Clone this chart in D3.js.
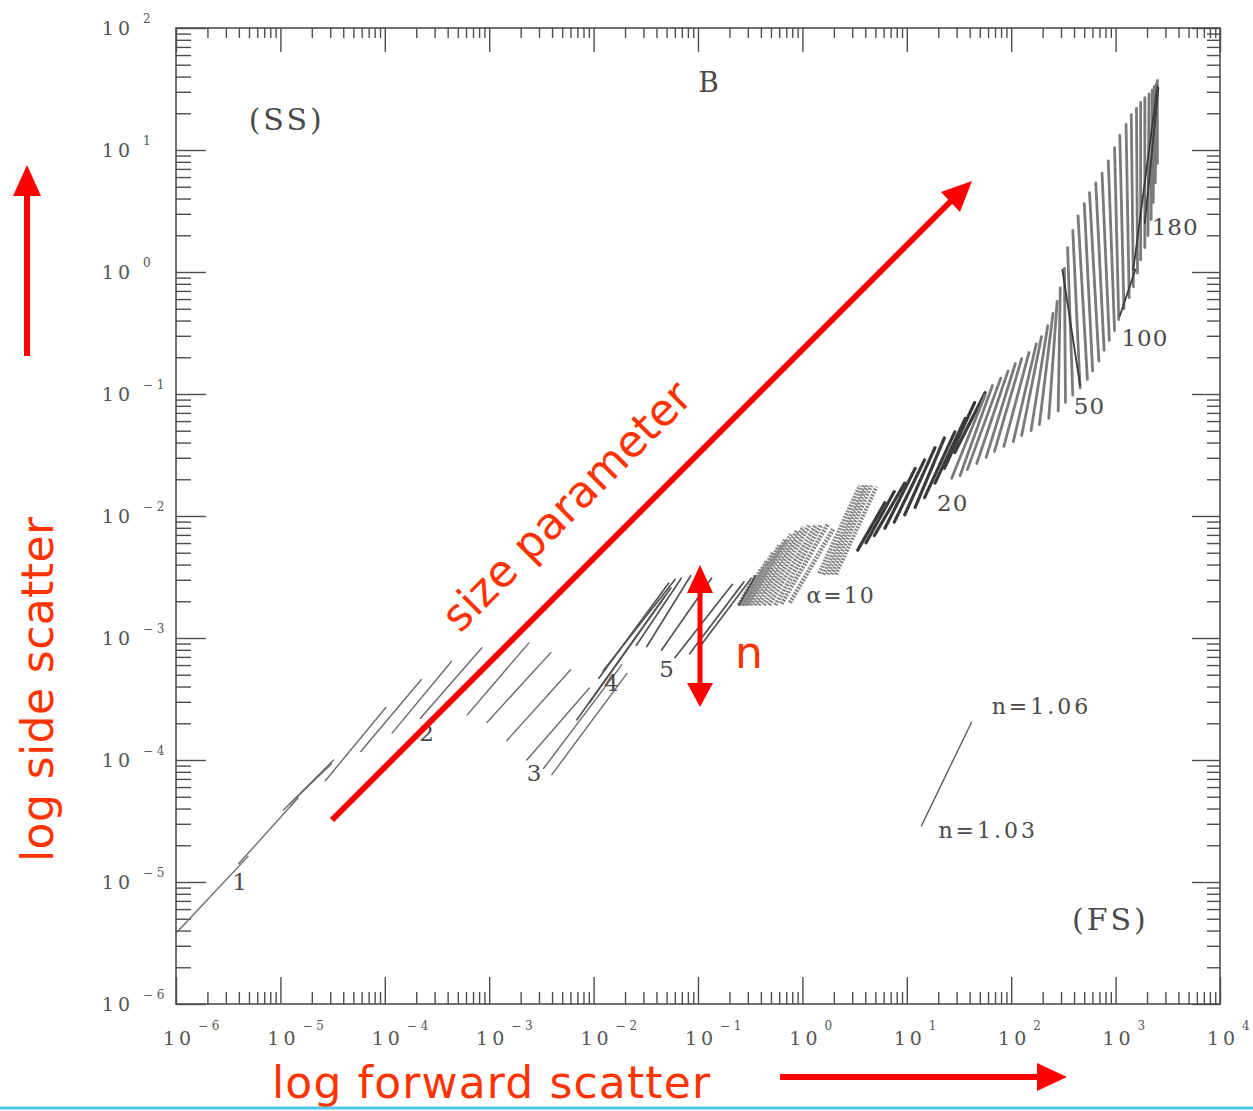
<!DOCTYPE html>
<html><head><meta charset="utf-8">
<script src="https://cdn.jsdelivr.net/npm/d3@7"></script>
<style>body{margin:0;background:#fff}svg{display:block}</style>
</head><body>
<svg id="c" width="1253" height="1111"></svg>
<script>
// ---- tick labels (exponents of 10) ----
const xTickExps = [-6,-5,-4,-3,-2,-1,0,1,2,3,4];
const yTickExps = [-6,-5,-4,-3,-2,-1,0,1,2];

// ---- data: each segment = [log10 FS (n=1.03), log10 SS (n=1.03), log10 FS (n=1.06), log10 SS (n=1.06)] ----
const segsSmall = [ // alpha ~ 1 - 3
  [-6.00,-5.42,-5.31,-4.79],[-5.40,-4.85,-4.83,-4.31],[-4.97,-4.41,-4.49,-4.00],
  [-4.91,-4.36,-4.51,-4.03],[-4.57,-4.17,-3.99,-3.57],[-4.23,-3.93,-3.65,-3.34],
  [-3.93,-3.78,-3.36,-3.19],[-3.66,-3.66,-3.07,-3.08],[-3.44,-3.59,-2.86,-3.07],
  [-3.21,-3.63,-2.62,-3.04],[-3.02,-3.69,-2.41,-3.12],[-2.83,-3.84,-2.22,-3.26],
  [-2.64,-4.00,-2.04,-3.41],[-2.48,-4.07,-1.73,-3.22],[-2.40,-4.12,-1.68,-3.29]
];
const segsMid = [ // alpha ~ 4 - 8
  [-2.16,-3.67,-1.32,-2.66],[-2.04,-3.53,-1.26,-2.59],[-1.95,-3.33,-1.28,-2.55],
  [-1.91,-3.27,-1.22,-2.52],[-1.59,-3.06,-1.16,-2.51],[-1.49,-3.07,-1.07,-2.49],
  [-1.35,-3.10,-0.87,-2.51],[-1.22,-3.16,-0.67,-2.56],[-1.08,-3.13,-0.56,-2.54],
  [-0.99,-3.08,-0.49,-2.51]
];
const segsAlpha10 = [ // alpha ~ 9 - 12 (dense)
  [-0.61,-2.73,-0.45,-2.49],[-0.59,-2.73,-0.39,-2.43],[-0.58,-2.73,-0.34,-2.37],
  [-0.56,-2.73,-0.28,-2.30],[-0.55,-2.73,-0.22,-2.24],[-0.53,-2.73,-0.16,-2.19],
  [-0.50,-2.73,-0.11,-2.15],[-0.46,-2.73,-0.05,-2.12],[-0.42,-2.73,0.01,-2.09],
  [-0.37,-2.73,0.07,-2.07],[-0.32,-2.73,0.13,-2.07],[-0.26,-2.73,0.18,-2.07],
  [-0.20,-2.72,0.24,-2.07],[-0.12,-2.71,0.30,-2.10]
];
const segsAlpha13 = [
  [0.16,-2.47,0.55,-1.75],[0.20,-2.48,0.59,-1.75],[0.24,-2.48,0.62,-1.75],
  [0.28,-2.48,0.66,-1.75],[0.32,-2.48,0.71,-1.76]
];
const segsAlpha20 = [ // alpha ~ 14 - 22 (dark)
  [0.53,-2.28,0.79,-1.89],[0.61,-2.22,0.88,-1.80],[0.69,-2.16,0.98,-1.73],
  [0.79,-2.10,1.08,-1.61],[0.88,-2.05,1.17,-1.54],[0.98,-1.99,1.27,-1.44],
  [1.08,-1.93,1.36,-1.36],[1.17,-1.85,1.46,-1.31],[1.27,-1.73,1.56,-1.20],
  [1.36,-1.61,1.65,-1.07],[1.46,-1.48,1.75,-0.99]
];
// alpha ~ 25 - 180 : n=1.03 ends and n=1.06 ends
const fanLowFS  = [1.43,1.51,1.58,1.67,1.76,1.84,1.93,2.02,2.10,2.19,2.27,2.36,2.45,2.52,2.59,2.66,2.73,2.78,2.84,2.89,2.94,2.99,3.03,3.08,3.13,3.17,3.21,3.24,3.28,3.31,3.34,3.36,3.38,3.40];
const fanLowSS  = [-1.69,-1.67,-1.62,-1.57,-1.52,-1.47,-1.43,-1.39,-1.34,-1.30,-1.25,-1.20,-1.14,-1.07,-1.01,-0.95,-0.88,-0.81,-0.73,-0.64,-0.56,-0.48,-0.39,-0.30,-0.21,-0.12,-0.01,0.10,0.20,0.30,0.43,0.57,0.73,0.89];
const fanHighFS = [1.75,1.82,1.90,1.97,2.04,2.10,2.17,2.24,2.29,2.35,2.40,2.44,2.47,2.51,2.54,2.59,2.64,2.70,2.75,2.81,2.87,2.93,2.99,3.04,3.10,3.15,3.20,3.24,3.28,3.32,3.35,3.37,3.39,3.40];
const fanHighSS = [-1.01,-0.93,-0.87,-0.81,-0.75,-0.71,-0.66,-0.59,-0.53,-0.44,-0.34,-0.24,-0.13,0.03,0.20,0.34,0.46,0.56,0.65,0.73,0.81,0.91,1.02,1.12,1.21,1.29,1.34,1.39,1.43,1.46,1.49,1.52,1.54,1.57];
const caustics = [[2.49,0.02,2.66,-0.93],[3.17,0.02,3.40,1.52],[3.04,-0.36,3.19,0.02],[3.28,0.40,3.41,1.51]];
const legendSeg = [1.14,-4.54,1.62,-3.69];

const curveLabels = [
  {t:"1", fs:-5.39, ss:-5.00, s:23, ls:0},
  {t:"2", fs:-3.60, ss:-3.78, s:23, ls:0},
  {t:"3", fs:-2.57, ss:-4.11, s:23, ls:0},
  {t:"4", fs:-1.83, ss:-3.37, s:23, ls:0},
  {t:"5", fs:-1.30, ss:-3.25, s:23, ls:0},
  {t:"α=10", fs:0.37, ss:-2.65, s:22, ls:2},
  {t:"20", fs:1.44, ss:-1.89, s:23, ls:1},
  {t:"50", fs:2.75, ss:-1.10, s:23, ls:1},
  {t:"100", fs:3.28, ss:-0.54, s:23, ls:1},
  {t:"180", fs:3.57, ss:0.37, s:23, ls:1},
  {t:"n=1.06", fs:2.29, ss:-3.56, s:22, ls:3},
  {t:"n=1.03", fs:1.78, ss:-4.58, s:22, ls:3},
  {t:"B", fs:-0.90, ss:1.55, s:28, ls:0},
  {t:"(SS)", fs:-4.94, ss:1.25, s:30, ls:3},
  {t:"(FS)", fs:2.95, ss:-5.31, s:30, ls:3}
];

const svg = d3.select("#c");
const L = 176, R = 1220, T = 28, B = 1004;
const x = d3.scaleLog().domain([1e-6, 1e4]).range([L, R]);
const y = d3.scaleLog().domain([1e-6, 1e2]).range([B, T]);
const ink = "#4d4d4d";

// frame
svg.append("rect").attr("x", L).attr("y", T).attr("width", R - L).attr("height", B - T)
  .attr("fill", "none").attr("stroke", ink).attr("stroke-width", 1.6);

const isPow = v => Math.abs(Math.log10(v) - Math.round(Math.log10(v))) < 1e-9;
const xMajor = xTickExps.map(e => 10 ** e);
const yMajor = yTickExps.map(e => 10 ** e);
const xMinor = x.ticks(30).filter(v => !isPow(v));
const yMinor = y.ticks(30).filter(v => !isPow(v));

function drawAxis(gen, tr, vals, size) {
  const g = svg.append("g").attr("transform", tr)
    .call(gen.tickValues(vals).tickSize(size).tickFormat(""));
  g.select(".domain").remove();
  g.selectAll("line").attr("stroke", ink).attr("stroke-width", 1.4);
}
drawAxis(d3.axisBottom(x), `translate(0,${B})`, xMajor, -27);
drawAxis(d3.axisBottom(x), `translate(0,${B})`, xMinor, -12);
drawAxis(d3.axisTop(x), `translate(0,${T})`, xMajor, -24);
drawAxis(d3.axisTop(x), `translate(0,${T})`, xMinor, -10);
drawAxis(d3.axisLeft(y), `translate(${L},0)`, yMajor, -30);
drawAxis(d3.axisLeft(y), `translate(${L},0)`, yMinor, -15);
drawAxis(d3.axisRight(y), `translate(${R},0)`, yMajor, -28);
drawAxis(d3.axisRight(y), `translate(${R},0)`, yMinor, -13);

// tick labels
const tickFont = "DejaVu Serif";
const supTxt = e => e < 0 ? "− " + Math.abs(e) : String(e);
xTickExps.forEach(e => {
  const px = x(10 ** e);
  svg.append("text").attr("x", px + 3).attr("y", B + 41).attr("text-anchor", "middle")
    .attr("font-family", tickFont).attr("font-size", 19).attr("letter-spacing", 4)
    .attr("fill", "#555").text("10");
  svg.append("text").attr("x", px + 22).attr("y", B + 26)
    .attr("font-family", tickFont).attr("font-size", 12).attr("fill", "#555").text(supTxt(e));
});
yTickExps.forEach(e => {
  const py = y(10 ** e);
  svg.append("text").attr("x", 134).attr("y", py + 7).attr("text-anchor", "end")
    .attr("font-family", tickFont).attr("font-size", 19).attr("letter-spacing", 4)
    .attr("fill", "#555").text("10");
  svg.append("text").attr("x", 143).attr("y", py - 5)
    .attr("font-family", tickFont).attr("font-size", 12).attr("fill", "#555").text(supTxt(e));
});

// segments
const P = v => 10 ** v;
function segs(data, color, w, extra) {
  const sel = svg.append("g").selectAll("line").data(data).join("line")
    .attr("x1", d => x(P(d[0]))).attr("y1", d => y(P(d[1])))
    .attr("x2", d => x(P(d[2]))).attr("y2", d => y(P(d[3])))
    .attr("stroke", color).attr("stroke-width", w).attr("stroke-linecap", "round");
  if (extra) extra(sel);
}
segs(segsSmall, "#6a6a6a", 1.4);
segs(segsMid, "#555", 1.7);
segs(segsAlpha10, "#8a8a8a", 4.5, s => s.attr("stroke-dasharray", "2,1.2").attr("stroke-linecap", "butt"));
segs(segsAlpha10.slice(0, 1), "#444", 1.6);
segs(segsAlpha13, "#8a8a8a", 4, s => s.attr("stroke-dasharray", "2,1.2").attr("stroke-linecap", "butt"));
segs(segsAlpha20, "#3a3a3a", 3.2);
const fan = fanLowFS.map((v, i) => [v, fanLowSS[i], fanHighFS[i], fanHighSS[i]]);
segs(fan, "#7a7a7a", 2.8);
segs(caustics, "#3a3a3a", 1.8);
segs([legendSeg], "#555", 1.3);

// curve labels
svg.append("g").selectAll("text").data(curveLabels).join("text")
  .attr("x", d => x(P(d.fs))).attr("y", d => y(P(d.ss)))
  .attr("text-anchor", "middle").attr("dominant-baseline", "central")
  .attr("font-family", "DejaVu Serif").attr("font-size", d => d.s)
  .attr("letter-spacing", d => d.ls)
  .attr("fill", "#4a4a4a").text(d => d.t);

// ---- red annotations ----
const red = "#ff0000", redTxt = "#ff3300";
const ann = svg.append("g");
function arrowLine(x1, y1, x2, y2, w) {
  ann.append("line").attr("x1", x1).attr("y1", y1).attr("x2", x2).attr("y2", y2)
    .attr("stroke", red).attr("stroke-width", w);
}
function tri(pts) { ann.append("polygon").attr("points", pts.map(p => p.join(",")).join(" ")).attr("fill", red); }
arrowLine(27, 356, 27, 192, 6); tri([[13,196],[41,196],[27,165]]);
arrowLine(332, 820, 952, 200, 6); tri([[972,181],[941,192],[960,212]]);
arrowLine(700, 588, 700, 686, 5); tri([[687,593],[713,593],[700,565]]); tri([[687,683],[713,683],[700,707]]);
arrowLine(780, 1077, 1040, 1077, 6); tri([[1037,1063],[1037,1091],[1067,1077]]);

const sans = "DejaVu Sans";
ann.append("text").attr("transform", "translate(53,862) rotate(-90)")
  .attr("font-family", sans).attr("font-size", 44).attr("fill", redTxt)
  .attr("textLength", 345).attr("lengthAdjust", "spacing").text("log side scatter");
ann.append("text").attr("x", 272).attr("y", 1098)
  .attr("font-family", sans).attr("font-size", 44).attr("fill", redTxt)
  .attr("textLength", 438).attr("lengthAdjust", "spacing").text("log forward scatter");
ann.append("text").attr("transform", "translate(460,634) rotate(-45)")
  .attr("font-family", sans).attr("font-size", 44).attr("fill", redTxt).text("size parameter");
ann.append("text").attr("x", 735).attr("y", 668)
  .attr("font-family", sans).attr("font-size", 44).attr("fill", redTxt).text("n");

svg.append("line").attr("x1", 0).attr("x2", 1253).attr("y1", 1108).attr("y2", 1108)
  .attr("stroke", "#4fc6ea").attr("stroke-width", 3);
</script>
</body></html>
